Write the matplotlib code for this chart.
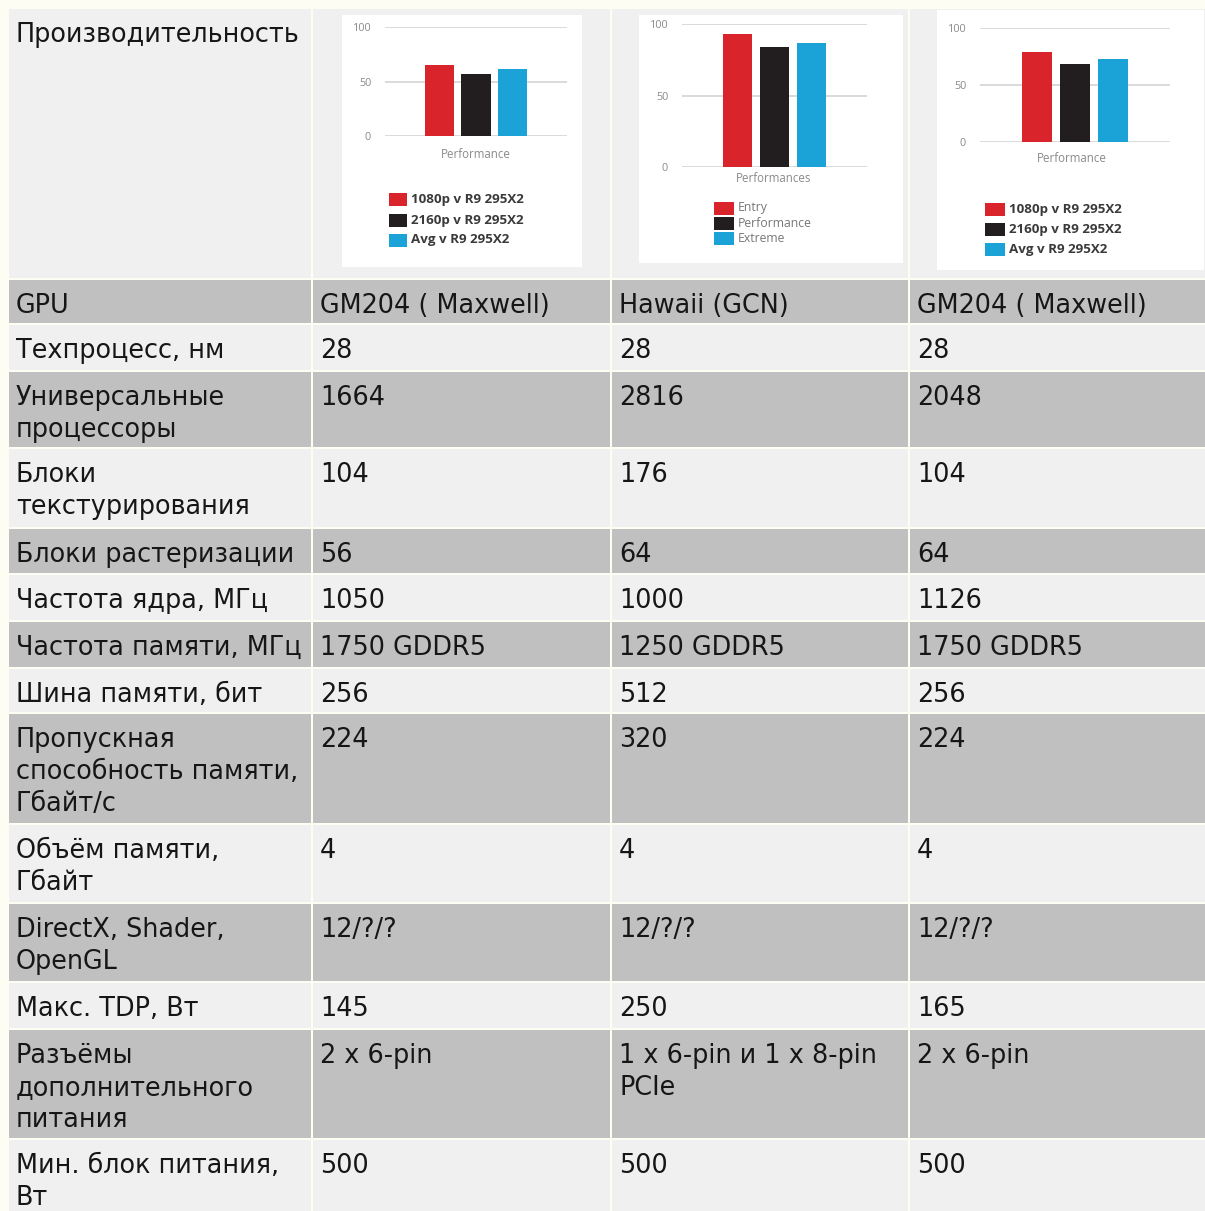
import matplotlib
matplotlib.use('Agg')
import matplotlib.pyplot as plt
from matplotlib.patches import Rectangle

W, H = 1205, 1211

# ---- table data ----
row_labels = ['Производительность', 'GPU', 'Техпроцесс, нм', 'Универсальные\nпроцессоры',
              'Блоки\nтекстурирования', 'Блоки растеризации', 'Частота ядра, МГц',
              'Частота памяти, МГц', 'Шина памяти, бит',
              'Пропускная\nспособность памяти,\nГбайт/с', 'Объём памяти,\nГбайт',
              'DirectX, Shader,\nOpenGL', 'Макс. TDP, Вт',
              'Разъёмы\nдополнительного\nпитания', 'Мин. блок питания,\nВт']
card1 = ['GM204 ( Maxwell)', '28', '1664', '104', '56', '1050', '1750 GDDR5', '256', '224',
         '4', '12/?/?', '145', '2 x 6-pin', '500']
card2 = ['Hawaii (GCN)', '28', '2816', '176', '64', '1000', '1250 GDDR5', '512', '320',
         '4', '12/?/?', '250', '1 x 6-pin и 1 x 8-pin\nPCIe', '500']
card3 = ['GM204 ( Maxwell)', '28', '2048', '104', '64', '1126', '1750 GDDR5', '256', '224',
         '4', '12/?/?', '165', '2 x 6-pin', '500']

# ---- performance charts data ----
perf1 = [65, 57, 61.5]
perf2 = [93, 84, 87]
perf3 = [79, 68, 73]
legend1 = ['1080p v R9 295X2', '2160p v R9 295X2', 'Avg v R9 295X2']
legend2 = ['Entry', 'Performance', 'Extreme']
legend3 = ['1080p v R9 295X2', '2160p v R9 295X2', 'Avg v R9 295X2']
xlabels = ['Performance', 'Performances', 'Performance']
yticks = [0, 50, 100]
bar_colors = ['#d9242c', '#221e1f', '#1ba3d8']

# ---- layout (pixels) ----
row_tops = [9, 280, 325, 372, 449, 529, 575, 622, 669, 714, 825, 904, 983, 1030, 1140]
row_bots = [278, 323, 370, 447, 527, 573, 620, 667, 712, 823, 902, 981, 1028, 1138, 1220]
col_lefts = [9, 313, 612, 910]
col_rights = [311, 610, 908, 1205]
light, dark = '#f0f0f0', '#c0c0c0'
txt_color = '#161616'
fs = 18.4
line_h = 32

fig = plt.figure(figsize=(W / 100, H / 100), dpi=100)
fig.patch.set_facecolor('#fdfdf4')
ax = fig.add_axes([0, 0, 1, 1])
ax.set_xlim(0, W)
ax.set_ylim(H, 0)
ax.axis('off')

columns = [row_labels, [''] + card1, [''] + card2, [''] + card3]
for r in range(len(row_tops)):
    color = light if r % 2 == 0 else dark
    for c in range(4):
        x0, x1 = col_lefts[c], col_rights[c]
        y0, y1 = row_tops[r], row_bots[r]
        ax.add_patch(Rectangle((x0, y0), x1 - x0, y1 - y0, facecolor=color, edgecolor='none'))
        text = columns[c][r]
        base = y0 + 33
        for i, line in enumerate(text.split('\n')):
            ax.text(x0 + 7, base + i * line_h, line, fontsize=fs, color=txt_color,
                    family='DejaVu Sans', va='baseline', ha='left')

# charts: box, plot area (x0, x1, y100, y0), xlabel pos, legend patch x, legend rows
charts = [
    dict(box=(342, 15, 582, 267), plot=(385, 567, 27, 136), xl=(476, 155),
         lx=(389, 407), ly=[199.5, 220.5, 240], vals=perf1, leg=legend1, bold=True),
    dict(box=(639, 15, 903, 263), plot=(682, 867, 24, 167), xl=(774, 178),
         lx=(714, 734), ly=[208, 223.5, 238.5], vals=perf2, leg=legend2, bold=False),
    dict(box=(937, 10, 1204, 270), plot=(980, 1170, 28, 142), xl=(1072, 159),
         lx=(985, 1005), ly=[209.5, 229, 249], vals=perf3, leg=legend3, bold=True),
]

for k, ch in enumerate(charts):
    bx0, by0, bx1, by1 = ch['box']
    ax.add_patch(Rectangle((bx0, by0), bx1 - bx0, by1 - by0, facecolor='white', edgecolor='none'))
    px0, px1, py100, py0 = ch['plot']
    bax = fig.add_axes([px0 / W, 1 - py0 / H, (px1 - px0) / W, (py0 - py100) / H])
    bax.patch.set_alpha(0)
    bax.bar(range(len(ch['vals'])), ch['vals'], width=0.8, color=bar_colors, zorder=3)
    bax.set_xlim(-1.5, 3.5)
    bax.set_ylim(0, 100)
    bax.set_yticks(yticks)
    bax.set_yticklabels([str(t) for t in yticks], fontsize=7.8, color='#8a8a8a', family='Open Sans')
    bax.set_xticks([])
    bax.tick_params(axis='y', length=0, pad=10)
    for s in bax.spines.values():
        s.set_visible(False)
    bax.yaxis.grid(True, color='#d4d4d4', linewidth=1.2)
    bax.set_axisbelow(True)
    ax.text(ch['xl'][0], ch['xl'][1], xlabels[k], fontsize=8.3, color='#8a8a8a',
            family='Open Sans', ha='center', va='center')
    lx0, lx1 = ch['lx']
    hh = 13
    for i, lab in enumerate(ch['leg']):
        yc = ch['ly'][i]
        ax.add_patch(Rectangle((lx0, yc - hh / 2), lx1 - lx0, hh, facecolor=bar_colors[i], edgecolor='none'))
        ax.text(lx1 + 4, yc, lab, fontsize=9.6 if ch['bold'] else 8.8,
                fontweight='bold' if ch['bold'] else 'normal',
                color='#3a3a3a' if ch['bold'] else '#777777',
                family='Open Sans', ha='left', va='center')

fig.savefig('out.png', dpi=100, facecolor=fig.get_facecolor())
